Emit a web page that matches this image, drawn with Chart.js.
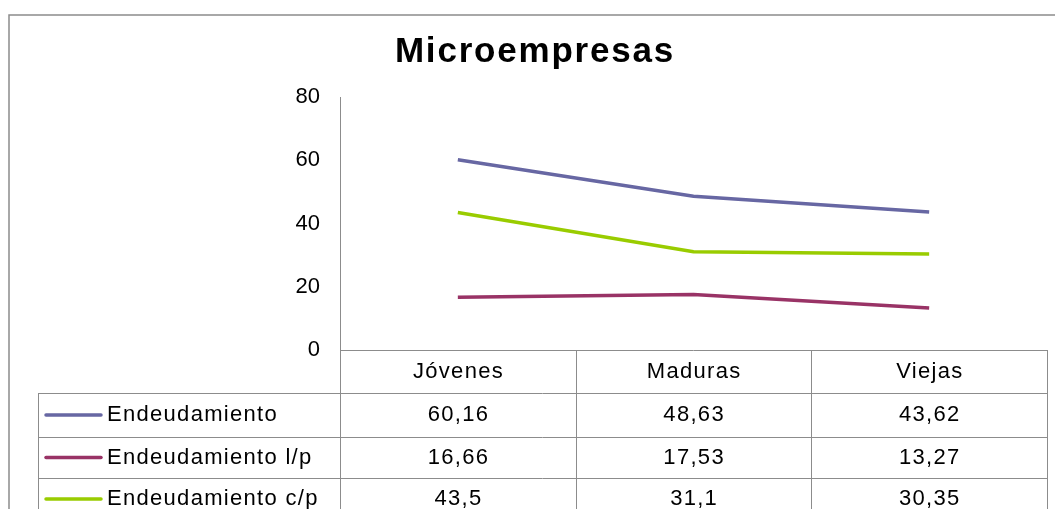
<!DOCTYPE html>
<html>
<head>
<meta charset="utf-8">
<script src="https://cdn.jsdelivr.net/npm/chart.js@4/dist/chart.umd.min.js"></script>
<style>
  html, body { margin: 0; padding: 0; background: #ffffff; }
  #wrap { width: 1055px; height: 509px; position: relative; }
</style>
</head>
<body>
<div id="wrap"><canvas id="c" width="1055" height="509"></canvas></div>
<script>
// Chart content
const chartTitle = 'Microempresas';
const categories = ['Jóvenes', 'Maduras', 'Viejas'];
const seriesNames = ['Endeudamiento', 'Endeudamiento l/p', 'Endeudamiento c/p'];
const endeudamiento = [60.16, 48.63, 43.62];
const endeudamientoLP = [16.66, 17.53, 13.27];
const endeudamientoCP = [43.5, 31.1, 30.35];
const seriesColors = ['#6767a3', '#993366', '#99cc00'];
const yTicks = [0, 20, 40, 60, 80];

const FONT = '"Liberation Sans", Arial, sans-serif';
const GRID = '#8c8c8c';
const TEXT_SPACING = 1.3;

// Frame, title and the data table under the plot
const tablePlugin = {
  id: 'dataTable',
  beforeDraw(chart) {
    const ctx = chart.ctx;
    ctx.save();
    ctx.fillStyle = '#ffffff';
    ctx.fillRect(0, 0, chart.width, chart.height);
    ctx.strokeStyle = GRID;
    ctx.lineWidth = 1.5;
    ctx.strokeRect(9, 15, chart.width + 20, chart.height + 20);
    // title
    ctx.fillStyle = '#000000';
    ctx.font = 'bold 35px ' + FONT;
    ctx.letterSpacing = '1.8px';
    ctx.textAlign = 'left';
    ctx.textBaseline = 'alphabetic';
    const w = ctx.measureText(chartTitle).width;
    ctx.fillText(chartTitle, 535 - w / 2, 62);
    ctx.restore();
  },
  afterDraw(chart) {
    const ctx = chart.ctx;
    const area = chart.chartArea;
    const xs = chart.scales.x;
    const n = categories.length;
    const centers = categories.map((_, i) => xs.getPixelForValue(i));
    const edges = [area.left];
    for (let i = 0; i < n - 1; i++) edges.push((centers[i] + centers[i + 1]) / 2);
    edges.push(area.right);

    const rows = [area.bottom, 393, 437, 478, 520];
    const legendLeft = 38;
    const bottom = chart.height + 2;

    ctx.save();
    ctx.strokeStyle = GRID;
    ctx.lineWidth = 1;
    ctx.beginPath();
    // header row top (category axis line)
    ctx.moveTo(area.left, Math.round(rows[0]) + 0.5);
    ctx.lineTo(area.right, Math.round(rows[0]) + 0.5);
    // body rows
    for (let r = 1; r < rows.length; r++) {
      ctx.moveTo(legendLeft, rows[r] + 0.5);
      ctx.lineTo(area.right, rows[r] + 0.5);
    }
    // category column borders
    edges.forEach(x => {
      const px = Math.round(x) + 0.5;
      ctx.moveTo(px, rows[0]);
      ctx.lineTo(px, bottom);
    });
    // legend column left border
    ctx.moveTo(legendLeft + 0.5, rows[1]);
    ctx.lineTo(legendLeft + 0.5, bottom);
    ctx.stroke();

    ctx.fillStyle = '#000000';
    ctx.font = '22px ' + FONT;
    ctx.letterSpacing = TEXT_SPACING + 'px';
    ctx.textBaseline = 'middle';

    const centerText = (t, x, y) => {
      const tw = ctx.measureText(t).width - TEXT_SPACING;
      ctx.fillText(t, x - tw / 2, y);
    };
    ctx.textAlign = 'left';
    // header
    categories.forEach((c, i) => centerText(c, centers[i], (rows[0] + rows[1]) / 2));

    // series rows with legend keys
    chart.data.datasets.forEach((ds, r) => {
      const yMid = (rows[r + 1] + rows[r + 2]) / 2;
      ctx.strokeStyle = ds.borderColor;
      ctx.lineWidth = 3.5;
      ctx.lineCap = 'round';
      ctx.beginPath();
      ctx.moveTo(46, yMid);
      ctx.lineTo(101, yMid);
      ctx.stroke();
      ctx.fillText(ds.label, 107, yMid);
      ds.data.forEach((v, i) => centerText(String(v).replace('.', ','), centers[i], yMid));
    });
    ctx.restore();
  }
};

const seriesValues = [endeudamiento, endeudamientoLP, endeudamientoCP];

new Chart(document.getElementById('c'), {
  type: 'line',
  data: {
    labels: categories,
    datasets: seriesNames.map((name, i) => ({
      label: name,
      data: seriesValues[i],
      borderColor: seriesColors[i],
      backgroundColor: seriesColors[i],
      borderWidth: 3.5,
      pointRadius: 0,
      tension: 0,
      fill: false
    }))
  },
  options: {
    responsive: false,
    animation: false,
    devicePixelRatio: 1,
    layout: { padding: { top: 97, right: 8, bottom: 159, left: 0 } },
    plugins: {
      legend: { display: false },
      title: { display: false },
      tooltip: { enabled: false }
    },
    scales: {
      x: {
        type: 'category',
        offset: true,
        display: false
      },
      y: {
        min: yTicks[0],
        max: yTicks[yTicks.length - 1],
        afterBuildTicks(axis) { axis.ticks = yTicks.map(v => ({ value: v })); },
        afterFit(axis) { axis.width = 340; },
        grid: { display: false, drawTicks: false },
        border: { display: true, color: GRID, width: 1 },
        ticks: {
          color: '#000000',
          padding: 20,
          font: { family: FONT, size: 22 }
        }
      }
    }
  },
  plugins: [tablePlugin]
});
</script>
</body>
</html>
